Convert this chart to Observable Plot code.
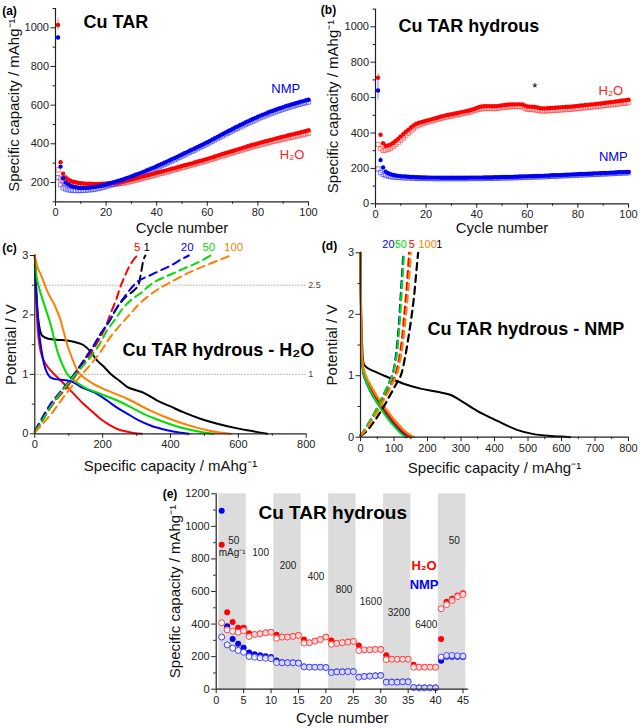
<!DOCTYPE html>
<html><head><meta charset="utf-8">
<script src="https://cdn.jsdelivr.net/npm/d3@7"></script>
<script src="https://cdn.jsdelivr.net/npm/@observablehq/plot@0.6"></script>
<style>
body{margin:0;background:#fff;}
#wrap{position:relative;width:640px;height:728px;background:#fff;font-family:"Liberation Sans",Arial,Helvetica,sans-serif;}
.p{position:absolute;}
</style></head><body><div id="wrap"></div>
<script>
// ---------- (a) Cu TAR : cycles 1..100 ----------
const aNmpDis = [950,282,222,200,190,183,178,175,173,172,
172,172,173,174,176,178,180,183,186,190,
193,197,201,205,209,213,217,222,226,231,
236,241,246,251,256,262,267,273,278,284,
290,296,302,308,314,320,326,332,339,345,
351,357,364,370,376,383,389,395,402,408,
415,422,429,436,443,450,457,464,470,477,
484,490,497,503,510,516,522,528,534,540,
546,551,556,562,567,571,576,581,585,590,
594,598,602,606,610,614,618,621,625,628];
const aNmpCha = [225,188,172,166,162,160,159,158,158,158,
159,160,161,162,164,166,169,172,175,179,
183,187,191,195,199,204,208,213,217,222,
227,232,237,242,247,253,258,264,269,275,
281,287,293,299,305,311,317,323,330,336,
342,348,355,361,367,374,380,386,393,399,
406,413,420,427,434,440,447,454,460,467,
474,480,487,493,499,505,511,517,523,529,
535,540,545,551,556,560,565,570,574,579,
583,587,591,595,599,603,606,610,613,616];
const aH2oDis = [1015,305,245,226,216,209,204,201,198,196,
195,194,193,193,192,192,192,193,194,195,
196,197,198,199,200,203,206,209,212,215,
218,222,225,229,232,236,239,243,246,250,
253,257,260,264,267,271,274,278,281,285,
289,292,296,299,303,307,311,314,318,322,
326,330,334,339,343,347,351,355,359,363,
367,371,375,379,383,387,391,395,398,402,
406,409,413,416,420,423,427,430,434,437,
440,444,447,450,453,456,460,463,466,470];
const aH2oCha = [265,218,203,196,192,190,189,188,187,187,
186,186,186,186,186,186,187,187,188,188,
189,190,191,192,193,195,197,200,203,206,
209,212,216,219,223,226,230,233,237,240,
244,247,251,254,258,261,265,268,272,276,
279,283,287,290,294,298,301,305,309,313,
317,321,325,329,333,337,341,345,349,353,
357,361,365,369,373,377,380,384,388,391,
395,398,402,405,408,412,415,418,421,424,
427,430,433,436,439,442,445,448,451,454];
const aErrCycle = [1, 1];
const aErrLow = [988, 938];
const aErrHigh = [1045, 962];
const aErrColor = ["#ff8080", "#8080ff"];
const aLabText = ["NMP", "H\u2082O"];
const aLabCycle = [91, 93.5];
const aLabVal = [687, 345];
const aLabColor = ["#0000ee", "#ff2020"];

// ---------- (b) Cu TAR hydrous : cycles 1..100 ----------
const bH2oDis = [712,390,342,328,330,336,345,356,368,381,
394,407,419,431,442,451,457,461,465,469,
473,477,481,485,489,493,497,500,503,506,
509,512,515,518,521,524,527,531,536,541,
547,550,551,552,552,551,551,552,554,556,
558,560,561,562,562,562,562,561,556,550,
549,548,547,544,540,539,539,540,541,542,
543,544,545,546,547,548,549,550,552,553,
555,556,558,559,561,562,564,566,567,569,
571,573,574,576,578,580,582,584,586,588];
const bH2oCha = [335,312,302,303,307,314,323,334,346,359,
372,386,399,412,424,435,444,450,455,459,
463,467,471,475,479,483,487,490,493,496,
499,502,505,508,511,514,517,521,526,530,
534,537,538,539,539,538,538,539,541,543,
545,547,548,549,549,549,549,548,540,534,
533,532,531,528,525,524,524,525,526,527,
528,529,530,531,532,533,534,535,537,538,
540,541,543,544,546,547,549,551,552,554,
556,557,559,561,562,564,566,567,569,571];
const bNmpDis = [640,247,205,182,173,167,163,160,158,156,
155,154,153,152,151,150,150,149,149,149,
148,148,148,148,148,147,147,147,147,147,
147,147,147,147,147,147,148,148,148,148,
148,148,149,149,149,149,150,150,150,151,
151,151,152,152,153,153,154,154,155,155,
156,156,157,157,158,158,159,159,160,161,
161,162,162,163,164,164,165,166,166,167,
168,168,169,170,170,171,172,172,173,174,
174,175,176,176,177,178,178,179,180,180];
const bNmpCha = [197,176,166,160,156,153,151,150,149,148,
147,146,146,145,145,144,144,144,143,143,
143,143,142,142,142,142,142,142,142,142,
142,142,142,142,142,142,142,143,143,143,
143,143,143,144,144,144,144,145,145,145,
146,146,146,147,147,148,148,149,149,150,
150,151,151,152,152,153,153,154,155,155,
156,156,157,158,158,159,160,160,161,162,
162,163,164,164,165,166,166,167,168,168,
169,170,170,171,172,172,173,174,174,175];
const bErrCycle = [1, 1, 2];
const bErrLow = [690, 590, 232];
const bErrHigh = [735, 690, 262];
const bErrColor = ["#ff8080", "#8080ff", "#8080ff"];
const bLabText = ["H\u2082O", "*", "NMP"];
const bLabCycle = [93, 63, 94];
const bLabVal = [640, 653, 263];
const bLabColor = ["#ff2020", "#000000", "#0000ee"];

// ---------- (c) Cu TAR hydrous - H2O : voltage profiles ----------
const cColors = ["#000000", "#ff0000", "#0000ff", "#00dd00", "#ff8000"];
const cDisCap = [
  [0,3,8,12,22,40,70,95,120,144,165,184,205,223,250,272,300,321,340,361,400,439,490,538,590,636,665,685],
  [0,2,4,9,15,22,35,46,70,95,120,144,170,194,220,243,270,295,316],
  [0,2,5,12,20,27,36,46,60,76,105,135,174,213,240,272,305,341,390,425,454],
  [0,5,12,27,46,66,80,95,120,144,194,243,292,330,371,410,449,490,528],
  [0,8,17,36,61,76,85,95,110,125,144,164,213,272,341,390,439,480,508,545,577]];
const cDisV = [
  [3.0,2.6,2.05,1.85,1.65,1.6,1.58,1.57,1.54,1.49,1.38,1.23,1.12,1.01,0.89,0.79,0.73,0.69,0.63,0.56,0.46,0.36,0.25,0.17,0.1,0.05,0.02,0],
  [3.0,2.7,2.3,1.74,1.45,1.29,1.15,1.07,0.93,0.79,0.64,0.5,0.37,0.25,0.15,0.08,0.04,0.01,0],
  [2.85,2.6,2.3,1.74,1.4,1.18,1.03,0.95,0.92,0.91,0.89,0.79,0.7,0.56,0.45,0.34,0.23,0.14,0.06,0.02,0],
  [2.95,2.65,2.47,2.19,1.85,1.4,1.18,1.01,0.88,0.79,0.67,0.56,0.42,0.31,0.22,0.14,0.08,0.03,0],
  [3.0,2.8,2.69,2.41,2.13,1.91,1.72,1.51,1.27,1.07,0.95,0.87,0.73,0.59,0.39,0.27,0.17,0.1,0.06,0.02,0]];
const cChaCap = [
  [0,20,46,70,95,120,144,170,194,220,243,268,292,305,311,316,321,326],
  [0,10,27,60,95,120,144,170,194,210,223,240,252,265,277,290,302],
  [0,20,46,70,95,120,144,170,194,220,243,270,292,305,321,345,371,390,410,430,454],
  [0,20,46,75,105,135,164,190,213,240,262,290,311,335,361,400,439,480,518],
  [0,25,56,85,115,145,174,200,223,252,282,305,331,360,390,430,469,520,577]];
const cChaV = [
  [0.03,0.2,0.45,0.65,0.84,1.03,1.23,1.45,1.68,1.9,2.13,2.3,2.41,2.5,2.64,2.8,2.94,3.0],
  [0.05,0.12,0.28,0.55,0.79,0.98,1.18,1.4,1.63,1.82,2.02,2.26,2.47,2.65,2.8,2.92,3.0],
  [0.05,0.25,0.5,0.67,0.84,1.03,1.23,1.45,1.68,1.9,2.13,2.35,2.5,2.57,2.62,2.68,2.75,2.8,2.86,2.93,3.0],
  [0.03,0.2,0.45,0.68,0.9,1.1,1.29,1.5,1.74,1.95,2.13,2.28,2.36,2.48,2.58,2.68,2.78,2.88,3.0],
  [0.02,0.18,0.39,0.62,0.84,1.04,1.23,1.43,1.63,1.83,2.02,2.17,2.3,2.42,2.52,2.64,2.75,2.87,3.0]];
const cLabText = ["5", "1", "20", "50", "100"];
const cLabCap = [302, 330, 449, 513, 586];
const cLabColor = ["#ff0000", "#000000", "#0000ff", "#00dd00", "#ff8000"];
const cGrid = [2.5, 1];
const cGridText = ["2.5", "1"];

// ---------- (d) Cu TAR hydrous - NMP : voltage profiles ----------
const dColors = ["#000000", "#ff0000", "#0000ff", "#00dd00", "#ff8000"];
const dDisCap = [
  [0,2,5,10,20,50,80,129,179,229,268,298,348,407,467,517,570,600,626],
  [0,1,3,5,10,20,30,45,60,75,90,105,120,135,150],
  [0,1,3,5,10,20,30,45,60,75,89,105,119,130,138],
  [0,1,3,5,10,20,30,45,60,75,89,105,119,128,135],
  [0,1,3,5,10,20,30,45,60,75,90,105,120,135,150,160]];
const dDisV = [
  [3.0,2.0,1.5,1.19,1.13,1.05,0.98,0.87,0.79,0.74,0.69,0.6,0.43,0.27,0.12,0.05,0.02,0.01,0],
  [3.0,2.3,1.6,1.25,1.05,0.9,0.79,0.65,0.53,0.42,0.31,0.21,0.12,0.05,0],
  [3.0,2.2,1.5,1.2,1.0,0.86,0.74,0.6,0.48,0.37,0.27,0.17,0.09,0.04,0],
  [3.0,2.2,1.5,1.22,1.02,0.87,0.75,0.6,0.47,0.35,0.25,0.15,0.07,0.03,0],
  [3.0,2.4,1.7,1.3,1.1,0.95,0.85,0.71,0.58,0.47,0.36,0.26,0.17,0.09,0.03,0]];
const dChaCap = [
  [0,15,40,64,88,105,120,133,143,152,160,166,172],
  [0,12,33,55,76,93,106,116,124,130,136,141,145],
  [0,10,30,50,70,85,97,105,111,116,120,124,128],
  [0,10,30,50,70,86,98,107,113,118,122,126,130],
  [0,13,35,57,79,96,110,120,128,135,141,146,150]];
const dChaV = [
  [0.02,0.08,0.25,0.45,0.68,0.85,1.0,1.3,1.62,1.95,2.3,2.65,3.0],
  [0.03,0.1,0.28,0.48,0.7,0.88,1.05,1.3,1.6,1.95,2.3,2.65,3.0],
  [0.03,0.1,0.28,0.48,0.7,0.88,1.05,1.3,1.6,1.95,2.3,2.65,3.0],
  [0.03,0.1,0.28,0.48,0.7,0.88,1.05,1.3,1.6,1.95,2.3,2.65,3.0],
  [0.03,0.1,0.28,0.48,0.7,0.88,1.05,1.3,1.6,1.95,2.3,2.65,3.0]];
const dLabText = ["20", "50", "5", "100", "1"];
const dLabCap = [65, 102, 144, 173, 226];
const dLabColor = ["#0000ff", "#00dd00", "#ff0000", "#ff8000", "#000000"];

// ---------- (e) rate capability : cycles 1..45 ----------
const eH2oDis = [887,473,412,377,377, 344,338,342,348,352, 334,322,322,326,332, 305,287,297,307,322,
  299,283,287,291,295, 268,241,243,246,246, 209,186,186,186,186, 150,137,137,137,137, 309,537,555,575,590];
const eH2oCha = [408,365,356,350,360, 324,336,340,346,350, 313,320,320,324,330, 283,285,295,305,320,
  276,281,285,289,293, 238,242,242,244,244, 182,184,184,184,184, 135,135,135,135,135, 494,520,545,569,582];
const eNmpDis = [1096,387,309,279,254, 225,215,209,203,197, 176,165,164,164,162, 140,137,137,137,135,
  105,108,108,110,110, 76,80,82,84,86, 45,45,45,47,47, 12,10,10,10,10, 174,200,200,199,197];
const eNmpCha = [320,272,252,238,227, 201,197,193,190,188, 164,162,162,162,160, 137,135,135,135,133,
  102,106,106,108,108, 74,78,80,82,84, 43,43,43,45,45, 10,8,8,8,8, 197,207,207,205,203];
const eBandStart = [0.5, 10.5, 20.5, 30.5, 40.5];
const eBandEnd = [5.5, 15.5, 25.5, 35.5, 45.5];
const eRateText = ["50", "mAg\u207B\u00B9", "100", "200", "400", "800", "1600", "3200", "6400", "50"];
const eRateCycle = [3.2, 2.9, 8.1, 13.1, 18.2, 23.3, 28.2, 33.3, 38.3, 43.4];
const eRateVal = [913, 835, 838, 760, 688, 610, 539, 467, 397, 913];
const eLabText = ["H\u2082O", "NMP"];
const eLabCycle = [37.9, 37.9];
const eLabVal = [758, 641];
const eLabColor = ["#ff0000", "#0000ff"];

// ---------- helpers ----------
const FONT = '"Liberation Sans", Arial, Helvetica, sans-serif';
const CAP_LABEL = "Specific capacity / mAhg\u207B\u00B9";
const fmt = d => String(d);
const wrap = document.getElementById("wrap");
function place(el, left, top) {
  const d = document.createElement("div");
  d.className = "p"; d.style.left = left + "px"; d.style.top = top + "px";
  d.appendChild(el); wrap.appendChild(d);
}
function axesMarks(o) {
  return [
    Plot.axisX({ticks: o.xMinor, tickSize: 2.5, tickFormat: () => "", label: null, stroke: "#222"}),
    Plot.axisY({ticks: o.yMinor, tickSize: 2.5, tickFormat: () => "", label: null, stroke: "#222"}),
    Plot.axisX({ticks: o.xTicks, tickSize: 4.5, tickPadding: 2, fontSize: 11, tickFormat: fmt, label: null, stroke: "#222", fill: "#222"}),
    Plot.axisY({ticks: o.yTicks, tickSize: 4.5, tickPadding: 2, fontSize: 11, tickFormat: fmt, label: null, stroke: "#222", fill: "#222"}),
    Plot.ruleX([o.xDomain[0]], {stroke: "#222", strokeWidth: 1.2}),
    Plot.ruleY([o.yDomain[0]], {stroke: "#222", strokeWidth: 1.2}),
    Plot.text([o.xLabel], {text: d => d, frameAnchor: "bottom", textAnchor: "middle", lineAnchor: "middle", dy: o.xLabelDy, fontSize: 15, fill: "#111"}),
    Plot.text([o.yLabel], {text: d => d, frameAnchor: "left", textAnchor: "middle", lineAnchor: "middle", rotate: -90, dx: o.yLabelDx, fontSize: 15, fill: "#111"}),
    Plot.text([o.tag], {text: d => d, frameAnchor: "top-left", textAnchor: "middle", lineAnchor: "middle", dx: o.tagDx, dy: o.tagDy, fontSize: 12, fontWeight: "bold", fill: "#000"}),
    Plot.text([o.title], {text: d => d, frameAnchor: "top-left", textAnchor: "start", lineAnchor: "middle", dx: o.titleDx, dy: o.titleDy, fontSize: o.titleSize || 18, fontWeight: "bold", fill: "#000"})
  ];
}
function mkPlot(o, marks) {
  return Plot.plot({
    width: o.width, height: o.height,
    marginLeft: o.ml, marginRight: o.mr, marginTop: o.mt, marginBottom: o.mb,
    x: {domain: o.xDomain, axis: null},
    y: {domain: o.yDomain, axis: null},
    style: {background: "transparent", overflow: "visible", fontFamily: FONT, color: "#111"},
    marks: [...marks, ...axesMarks(o)]
  });
}
const cyc = (d, i) => i + 1;
const val = d => d;

// ---------- (a) ----------
const oA = {width: 320, height: 240, ml: 55, mr: 12, mt: 8, mb: 38.7,
  xDomain: [0, 100], yDomain: [100, 1100],
  xTicks: [0, 20, 40, 60, 80, 100], xMinor: [10, 30, 50, 70, 90],
  yTicks: [200, 400, 600, 800, 1000], yMinor: [100, 300, 500, 700, 900, 1100],
  xLabel: "Cycle number", xLabelDy: 26, yLabel: CAP_LABEL, yLabelDx: -41,
  tag: "(a)", tagDx: -46, tagDy: 2.5, title: "Cu TAR", titleDx: 28, titleDy: 14};
place(mkPlot(oA, [
  Plot.ruleX(aErrCycle, {x: val, y1: (d, i) => aErrLow[i], y2: (d, i) => aErrHigh[i], stroke: (d, i) => aErrColor[i], strokeWidth: 1}),
  Plot.dot(aH2oCha, {x: cyc, y: val, symbol: "square", r: 2.4, stroke: "#ff3030", strokeOpacity: 0.6, strokeWidth: 1, fill: "none"}),
  Plot.dot(aNmpCha, {x: cyc, y: val, symbol: "square", r: 2.4, stroke: "#3030ff", strokeOpacity: 0.6, strokeWidth: 1, fill: "none"}),
  Plot.dot(aH2oDis, {x: cyc, y: val, r: 2.2, fill: "#ff0000"}),
  Plot.dot(aNmpDis, {x: cyc, y: val, r: 2.2, fill: "#0000ee"}),
  Plot.text(aLabText, {x: (d, i) => aLabCycle[i], y: (d, i) => aLabVal[i], text: val, fill: (d, i) => aLabColor[i], fontSize: 13})
]), 0, 0);

// ---------- (b) ----------
const oB = {width: 320, height: 240, ml: 55, mr: 12, mt: 8.6, mb: 36.7,
  xDomain: [0, 100], yDomain: [0, 1100],
  xTicks: [0, 20, 40, 60, 80, 100], xMinor: [10, 30, 50, 70, 90],
  yTicks: [0, 200, 400, 600, 800, 1000], yMinor: [100, 300, 500, 700, 900, 1100],
  xLabel: "Cycle number", xLabelDy: 24, yLabel: CAP_LABEL, yLabelDx: -42,
  tag: "(b)", tagDx: -47, tagDy: 1, title: "Cu TAR hydrous", titleDx: 23, titleDy: 17};
place(mkPlot(oB, [
  Plot.ruleX(bErrCycle, {x: val, y1: (d, i) => bErrLow[i], y2: (d, i) => bErrHigh[i], stroke: (d, i) => bErrColor[i], strokeWidth: 1}),
  Plot.dot(bH2oCha, {x: cyc, y: val, symbol: "square", r: 2.4, stroke: "#ff3030", strokeOpacity: 0.6, strokeWidth: 1, fill: "none"}),
  Plot.dot(bNmpCha, {x: cyc, y: val, symbol: "square", r: 2.4, stroke: "#3030ff", strokeOpacity: 0.6, strokeWidth: 1, fill: "none"}),
  Plot.dot(bH2oDis, {x: cyc, y: val, r: 2.2, fill: "#ff0000"}),
  Plot.dot(bNmpDis, {x: cyc, y: val, r: 2.2, fill: "#0000ee"}),
  Plot.text(bLabText, {x: (d, i) => bLabCycle[i], y: (d, i) => bLabVal[i], text: val, fill: (d, i) => bLabColor[i], fontSize: 13})
]), 320, 0);

// ---------- (c) ----------
const oC = {width: 320, height: 235, ml: 34.3, mr: 14.3, mt: 15, mb: 41.7,
  xDomain: [0, 800], yDomain: [0, 3],
  xTicks: [0, 200, 400, 600, 800], xMinor: [100, 300, 500, 700],
  yTicks: [0, 1, 2, 3], yMinor: [0.5, 1.5, 2.5],
  xLabel: CAP_LABEL, xLabelDy: 32, yLabel: "Potential / V", yLabelDx: -23.6,
  tag: "(c)", tagDx: -25.3, tagDy: -7, title: "Cu TAR hydrous - H\u2082O", titleDx: 87.7, titleDy: 95};
const cMarks = [
  Plot.ruleY(cGrid, {x1: 0, x2: 800, stroke: "#777", strokeWidth: 0.8, strokeDasharray: "1.2,1.8"}),
  Plot.text(cGridText, {x: 800, y: (d, i) => cGrid[i], text: val, dx: 2, textAnchor: "start", fontSize: 9, fill: "#444"})
];
cDisCap.forEach((caps, k) => cMarks.push(Plot.line(caps, {x: val, y: (d, i) => cDisV[k][i], stroke: cColors[k], strokeWidth: 2, curve: "monotone-x"})));
cChaCap.forEach((caps, k) => cMarks.push(Plot.line(caps, {x: val, y: (d, i) => cChaV[k][i], stroke: cColors[k], strokeWidth: 2, strokeDasharray: "8,5", curve: "catmull-rom"})));
cMarks.push(Plot.text(cLabText, {x: (d, i) => cLabCap[i], y: 3.13, text: val, fill: (d, i) => cLabColor[i], fontSize: 11.5}));
place(mkPlot(oC, cMarks), 0, 240);

// ---------- (d) ----------
const oD = {width: 320, height: 235, ml: 40, mr: 12, mt: 12.3, mb: 38.3,
  xDomain: [0, 800], yDomain: [0, 3],
  xTicks: [0, 100, 200, 300, 400, 500, 600, 700, 800], xMinor: [50, 150, 250, 350, 450, 550, 650, 750],
  yTicks: [0, 1, 2, 3], yMinor: [0.5, 1.5, 2.5],
  xLabel: CAP_LABEL, xLabelDy: 31, yLabel: "Potential / V", yLabelDx: -28.3,
  tag: "(d)", tagDx: -31, tagDy: -6.6, title: "Cu TAR hydrous - NMP", titleDx: 67, titleDy: 76.7};
const dMarks = [];
dDisCap.forEach((caps, k) => dMarks.push(Plot.line(caps, {x: val, y: (d, i) => dDisV[k][i], stroke: dColors[k], strokeWidth: 2, curve: "catmull-rom"})));
dChaCap.forEach((caps, k) => dMarks.push(Plot.line(caps, {x: val, y: (d, i) => dChaV[k][i], stroke: dColors[k], strokeWidth: 2.2, strokeDasharray: "7,5", curve: "catmull-rom"})));
dMarks.push(Plot.text(dLabText, {x: (d, i) => dLabCap[i], y: 3.13, text: val, textAnchor: "start", fill: (d, i) => dLabColor[i], fontSize: 11}));
place(mkPlot(oD, dMarks), 320, 240);

// ---------- (e) ----------
const oE = {width: 320, height: 253, ml: 55.7, mr: 12, mt: 18.3, mb: 39.3,
  xDomain: [0, 46], yDomain: [0, 1200],
  xTicks: [0, 5, 10, 15, 20, 25, 30, 35, 40, 45], xMinor: [],
  yTicks: [0, 200, 400, 600, 800, 1000, 1200], yMinor: [100, 300, 500, 700, 900, 1100],
  xLabel: "Cycle number", xLabelDy: 29, yLabel: CAP_LABEL, yLabelDx: -40.7,
  tag: "(e)", tagDx: -46.2, tagDy: 0, title: "Cu TAR hydrous", titleDx: 42.3, titleDy: 18.7, titleSize: 19};
place(mkPlot(oE, [
  Plot.rect(eBandStart, {x1: val, x2: (d, i) => eBandEnd[i], fill: "#dcdcdc"}),
  Plot.dot(eH2oDis, {x: cyc, y: val, r: 3, fill: "#ff0000"}),
  Plot.dot(eNmpDis, {x: cyc, y: val, r: 3, fill: "#0000ee"}),
  Plot.dot(eH2oCha, {x: cyc, y: val, r: 3, stroke: "#ff4040", strokeWidth: 1, fill: "white", fillOpacity: 0.85}),
  Plot.dot(eNmpCha, {x: cyc, y: val, r: 3, stroke: "#4040ff", strokeWidth: 1, fill: "white", fillOpacity: 0.85}),
  Plot.text(eRateText, {x: (d, i) => eRateCycle[i], y: (d, i) => eRateVal[i], text: val, fontSize: 10, fill: "#222"}),
  Plot.text(eLabText, {x: (d, i) => eLabCycle[i], y: (d, i) => eLabVal[i], text: val, fill: (d, i) => eLabColor[i], fontSize: 13, fontWeight: "bold"})
]), 160, 475);
</script>
</body></html>
